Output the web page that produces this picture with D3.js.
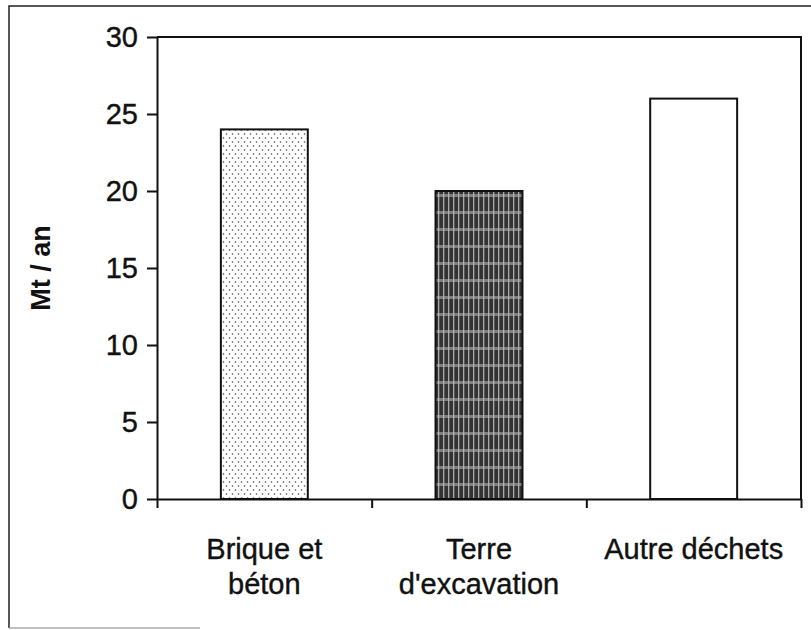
<!DOCTYPE html>
<html>
<head>
<meta charset="utf-8">
<script src="https://cdn.jsdelivr.net/npm/d3@7"></script>
<style>
	body { margin: 0; background: #fff; }
	text { font-family: Arial, "Liberation Sans", sans-serif; }
</style>
</head>
<body>
<div id="graph"></div>
<script>
// categories, one line per array item
var categories = [
	["Brique et", "béton"],
	["Terre", "d'excavation"],
	["Autre déchets"]
];
var values = [24, 20, 26];
var fills = ["url(#dots)", "url(#plaid)", "#fff"];
var yTicks = [0, 5, 10, 15, 20, 25, 30];

var width = 811, height = 630;
var plotLeft = 157, plotRight = 801, plotTop = 37, plotBottom = 499;
var fontSize = 29;

var svg = d3.select("#graph").append("svg")
	.attr("width", width)
	.attr("height", height);

var defs = svg.append("defs");

var dots = defs.append("pattern")
	.attr("id", "dots")
	.attr("patternUnits", "userSpaceOnUse")
	.attr("width", 6).attr("height", 8);
dots.append("rect").attr("width", 6).attr("height", 8).attr("fill", "#fff");
dots.append("circle").attr("cx", 1.5).attr("cy", 2).attr("r", 0.8).attr("fill", "#444");
dots.append("circle").attr("cx", 4.5).attr("cy", 6).attr("r", 0.8).attr("fill", "#444");

var plaid = defs.append("pattern")
	.attr("id", "plaid")
	.attr("patternUnits", "userSpaceOnUse")
	.attr("width", 5).attr("height", 17);
plaid.append("rect").attr("width", 5).attr("height", 17).attr("fill", "#333");
plaid.append("rect").attr("x", 3).attr("width", 1.3).attr("height", 17)
	.attr("fill", "#ddd").attr("opacity", 0.7);
plaid.append("rect").attr("y", 7).attr("width", 5).attr("height", 3)
	.attr("fill", "#bbb").attr("opacity", 0.55);

// outer frame: left and top edges, faint bottom stub
svg.append("path")
	.attr("d", "M9,628V6H811")
	.attr("fill", "none")
	.attr("stroke", "#222")
	.attr("stroke-width", 1.5);
svg.append("line")
	.attr("x1", 9).attr("x2", 200)
	.attr("y1", 628).attr("y2", 628)
	.attr("stroke", "#aaa")
	.attr("stroke-width", 1.5);

var x = d3.scaleBand()
	.domain(d3.range(categories.length))
	.range([plotLeft, plotRight])
	.paddingInner(0.595)
	.paddingOuter(0.2975);

var y = d3.scaleLinear()
	.domain([0, 30])
	.range([plotBottom, plotTop]);

// plot area border (top and right)
svg.append("path")
	.attr("d", "M" + plotLeft + "," + plotTop + "H" + plotRight + "V" + plotBottom)
	.attr("fill", "none")
	.attr("stroke", "#111")
	.attr("stroke-width", 2);

svg.selectAll("rect.bar")
	.data(values)
	.enter().append("rect")
	.attr("class", "bar")
	.attr("x", function (d, i) { return x(i); })
	.attr("y", function (d) { return y(d); })
	.attr("width", x.bandwidth())
	.attr("height", function (d) { return y(0) - y(d); })
	.attr("fill", function (d, i) { return fills[i]; })
	.attr("stroke", "#111")
	.attr("stroke-width", 2);

var yAxis = d3.axisLeft(y)
	.tickValues(yTicks)
	.tickSize(10)
	.tickPadding(9)
	.tickSizeOuter(0);

var gy = svg.append("g")
	.attr("transform", "translate(" + plotLeft + ",0)")
	.call(yAxis);
gy.select(".domain").attr("stroke", "#111").attr("stroke-width", 2);
gy.selectAll(".tick line").attr("stroke", "#111").attr("stroke-width", 2);
gy.selectAll(".tick text")
	.attr("font-size", fontSize)
	.attr("font-family", "Arial, 'Liberation Sans', sans-serif")
	.attr("fill", "#111")
	.attr("stroke", "#111")
	.attr("stroke-width", 0.4);

// category boundary ticks
var xEdge = d3.scaleLinear().domain([0, categories.length]).range([plotLeft, plotRight]);
var xAxis = d3.axisBottom(xEdge)
	.tickValues(d3.range(categories.length + 1))
	.tickSize(9)
	.tickSizeOuter(0)
	.tickFormat("");

var gx = svg.append("g")
	.attr("transform", "translate(0," + plotBottom + ")")
	.call(xAxis);
gx.select(".domain").attr("stroke", "#111").attr("stroke-width", 2);
gx.selectAll(".tick line").attr("stroke", "#111").attr("stroke-width", 2);

// category labels
var labels = svg.selectAll("text.cat")
	.data(categories)
	.enter().append("text")
	.attr("class", "cat")
	.attr("text-anchor", "middle")
	.attr("font-size", fontSize)
	.attr("fill", "#111")
	.attr("stroke", "#111")
	.attr("stroke-width", 0.4)
	.attr("transform", function (d, i) {
		return "translate(" + (x(i) + x.bandwidth() / 2) + ",559)";
	});
labels.selectAll("tspan")
	.data(function (d) { return d; })
	.enter().append("tspan")
	.attr("x", 0)
	.attr("y", function (d, j) { return j * 35; })
	.text(function (d) { return d; });

svg.append("text")
	.attr("transform", "translate(50," + ((plotTop + plotBottom) / 2) + ") rotate(-90)")
	.attr("text-anchor", "middle")
	.attr("font-size", 27)
	.attr("font-weight", "bold")
	.attr("fill", "#111")
	.text("Mt / an");
</script>
</body>
</html>
